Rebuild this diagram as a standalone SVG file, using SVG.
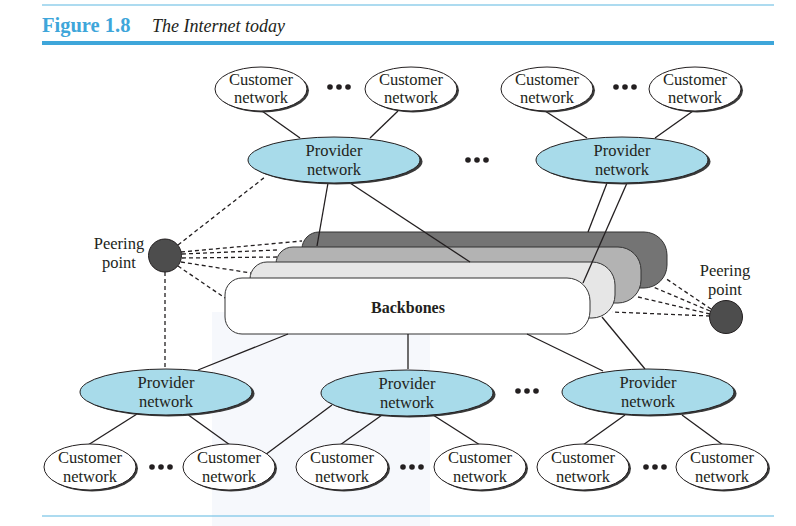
<svg xmlns="http://www.w3.org/2000/svg" width="796" height="526" viewBox="0 0 796 526">
<style>
.rule{stroke:#5cb7e2;stroke-width:1.2;fill:none}
.ln{stroke:#231f20;stroke-width:1.3;fill:none}
.dash{stroke:#231f20;stroke-width:1.3;fill:none;stroke-dasharray:4 3}
.shadow{fill:#3a3a3a}
.cust{fill:#ffffff;stroke:#231f20;stroke-width:1}
.prov{fill:#a8dbea;stroke:#231f20;stroke-width:1}
.peer{fill:#4d4d4d;stroke:#231f20;stroke-width:1}
.bb{stroke:#333333;stroke-width:1}
.t{font-family:"Liberation Serif","Times New Roman",serif;font-size:16.5px;fill:#231f20;text-anchor:middle}
.dot{fill:#231f20}
</style>
<defs>
<path id="bbshape" d="M17,0 H342 A23,23 0 0 1 365,23 V33 A23,23 0 0 1 342,56 H17 A17,17 0 0 1 0,39 V17 A17,17 0 0 1 17,0 Z"/>
<g id="dots"><circle cx="-9" cy="0" r="2.8"/><circle cx="0" cy="0" r="2.8"/><circle cx="9" cy="0" r="2.8"/></g>
</defs>
<rect width="796" height="526" fill="#ffffff"/>
<rect x="212" y="312" width="218" height="214" fill="#f6f8fc"/>
<g id="header">
<line class="rule" x1="42" y1="5" x2="774" y2="5"/>
<text x="42" y="32" font-family="Liberation Serif,serif" font-weight="bold" font-size="20.5" fill="#3ea6da">Figure 1.8</text>
<text x="152" y="32" font-family="Liberation Serif,serif" font-style="italic" font-size="18" fill="#231f20">The Internet today</text>
<rect x="42" y="41" width="732" height="4" fill="#3ea6da"/>
<line class="rule" x1="42" y1="516" x2="774" y2="516"/>
</g>
<g id="backbones">
<use href="#bbshape" x="302" y="232" class="bb" fill="#747474"/>
<use href="#bbshape" x="276" y="247" class="bb" fill="#b3b3b3"/>
<use href="#bbshape" x="250" y="262" class="bb" fill="#e6e6e6"/>
</g>
<g id="connectors-rear">
<line class="ln" x1="328" y1="183" x2="317" y2="246"/>
<line class="ln" x1="350" y1="183" x2="470" y2="262"/>
<line class="ln" x1="607" y1="183" x2="588" y2="232"/>
<line class="ln" x1="627" y1="183" x2="583" y2="283"/>
</g>
<g id="backbone-front">
<use href="#bbshape" x="225" y="278" class="bb" fill="#ffffff"/>
<text x="408" y="313" font-family="Liberation Serif,serif" font-weight="bold" font-size="16" fill="#231f20" text-anchor="middle">Backbones</text>
</g>
<g id="connectors">
<line class="ln" x1="262" y1="111" x2="300" y2="138"/>
<line class="ln" x1="398" y1="111" x2="370" y2="138"/>
<line class="ln" x1="545" y1="111" x2="587" y2="138"/>
<line class="ln" x1="693" y1="111" x2="655" y2="138"/>
<line class="ln" x1="288" y1="334" x2="198" y2="370"/>
<line class="ln" x1="408" y1="334" x2="408" y2="369"/>
<line class="ln" x1="527" y1="334" x2="603" y2="371"/>
<line class="ln" x1="602" y1="317" x2="645" y2="369"/>
<line class="ln" x1="137" y1="414" x2="88" y2="445"/>
<line class="ln" x1="187" y1="414" x2="230" y2="445"/>
<line class="ln" x1="332" y1="405" x2="265" y2="455"/>
<line class="ln" x1="382" y1="415" x2="340" y2="445"/>
<line class="ln" x1="433" y1="415" x2="480" y2="445"/>
<line class="ln" x1="625" y1="415" x2="583" y2="445"/>
<line class="ln" x1="682" y1="415" x2="723" y2="445"/>
<line class="dash" x1="178" y1="245" x2="265" y2="177"/>
<line class="dash" x1="181" y1="252" x2="302" y2="241"/>
<line class="dash" x1="182" y1="254" x2="277" y2="250"/>
<line class="dash" x1="182" y1="258" x2="277" y2="257"/>
<line class="dash" x1="181" y1="262" x2="251" y2="273"/>
<line class="dash" x1="178" y1="266" x2="225" y2="298"/>
<line class="dash" x1="165" y1="272" x2="165" y2="369"/>
<line class="dash" x1="711" y1="309" x2="665" y2="278"/>
<line class="dash" x1="710" y1="311" x2="653" y2="287"/>
<line class="dash" x1="710" y1="314" x2="638" y2="297"/>
<line class="dash" x1="710" y1="316" x2="612" y2="312"/>
</g>
<g id="peer-left">
<circle class="peer" cx="165" cy="255.5" r="16.5"/>
<text class="t" x="119" y="249">Peering</text>
<text class="t" x="119" y="268">point</text>
</g>
<g id="peer-right">
<circle class="peer" cx="726" cy="317" r="16.5"/>
<text class="t" x="725" y="276">Peering</text>
<text class="t" x="725" y="295">point</text>
</g>
<g id="cust-t1"><ellipse class="shadow" cx="263" cy="90.5" rx="46" ry="22"/><ellipse class="cust" cx="261" cy="89" rx="46" ry="22"/><text class="t" x="261" y="85">Customer</text><text class="t" x="261" y="103">network</text></g>
<g id="cust-t2"><ellipse class="shadow" cx="413" cy="90.5" rx="46" ry="22"/><ellipse class="cust" cx="411" cy="89" rx="46" ry="22"/><text class="t" x="411" y="85">Customer</text><text class="t" x="411" y="103">network</text></g>
<g id="cust-t3"><ellipse class="shadow" cx="549" cy="90.5" rx="46" ry="22"/><ellipse class="cust" cx="547" cy="89" rx="46" ry="22"/><text class="t" x="547" y="85">Customer</text><text class="t" x="547" y="103">network</text></g>
<g id="cust-t4"><ellipse class="shadow" cx="697" cy="90.5" rx="46" ry="22"/><ellipse class="cust" cx="695" cy="89" rx="46" ry="22"/><text class="t" x="695" y="85">Customer</text><text class="t" x="695" y="103">network</text></g>
<g id="prov-t1"><ellipse class="shadow" cx="336.5" cy="161.5" rx="86" ry="23"/><ellipse class="prov" cx="334" cy="160" rx="86" ry="23"/><text class="t" x="334" y="156">Provider</text><text class="t" x="334" y="175">network</text></g>
<g id="prov-t2"><ellipse class="shadow" cx="624.5" cy="161.5" rx="86" ry="23"/><ellipse class="prov" cx="622" cy="160" rx="86" ry="23"/><text class="t" x="622" y="156">Provider</text><text class="t" x="622" y="175">network</text></g>
<g id="prov-b1"><ellipse class="shadow" cx="168.5" cy="393.5" rx="86" ry="23"/><ellipse class="prov" cx="166" cy="392" rx="86" ry="23"/><text class="t" x="166" y="388">Provider</text><text class="t" x="166" y="407">network</text></g>
<g id="prov-b2"><ellipse class="shadow" cx="409.5" cy="394.5" rx="86" ry="23"/><ellipse class="prov" cx="407" cy="393" rx="86" ry="23"/><text class="t" x="407" y="389">Provider</text><text class="t" x="407" y="408">network</text></g>
<g id="prov-b3"><ellipse class="shadow" cx="650.5" cy="393.5" rx="86" ry="23"/><ellipse class="prov" cx="648" cy="392" rx="86" ry="23"/><text class="t" x="648" y="388">Provider</text><text class="t" x="648" y="407">network</text></g>
<g id="cust-b1"><ellipse class="shadow" cx="92" cy="468.5" rx="46" ry="23"/><ellipse class="cust" cx="90" cy="467" rx="46" ry="23"/><text class="t" x="90" y="463">Customer</text><text class="t" x="90" y="482">network</text></g>
<g id="cust-b2"><ellipse class="shadow" cx="231" cy="468.5" rx="46" ry="23"/><ellipse class="cust" cx="229" cy="467" rx="46" ry="23"/><text class="t" x="229" y="463">Customer</text><text class="t" x="229" y="482">network</text></g>
<g id="cust-b3"><ellipse class="shadow" cx="344" cy="468.5" rx="46" ry="23"/><ellipse class="cust" cx="342" cy="467" rx="46" ry="23"/><text class="t" x="342" y="463">Customer</text><text class="t" x="342" y="482">network</text></g>
<g id="cust-b4"><ellipse class="shadow" cx="482" cy="468.5" rx="46" ry="23"/><ellipse class="cust" cx="480" cy="467" rx="46" ry="23"/><text class="t" x="480" y="463">Customer</text><text class="t" x="480" y="482">network</text></g>
<g id="cust-b5"><ellipse class="shadow" cx="585" cy="468.5" rx="46" ry="23"/><ellipse class="cust" cx="583" cy="467" rx="46" ry="23"/><text class="t" x="583" y="463">Customer</text><text class="t" x="583" y="482">network</text></g>
<g id="cust-b6"><ellipse class="shadow" cx="724" cy="468.5" rx="46" ry="23"/><ellipse class="cust" cx="722" cy="467" rx="46" ry="23"/><text class="t" x="722" y="463">Customer</text><text class="t" x="722" y="482">network</text></g>
<g id="ellipsis" class="dot">
<use href="#dots" x="339" y="87"/>
<use href="#dots" x="625" y="87"/>
<use href="#dots" x="477" y="160"/>
<use href="#dots" x="527" y="391"/>
<use href="#dots" x="161" y="467"/>
<use href="#dots" x="412" y="467"/>
<use href="#dots" x="655" y="467"/>
</g>
</svg>
